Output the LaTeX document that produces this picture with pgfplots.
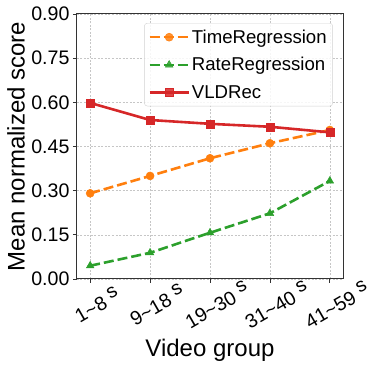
\documentclass[border=0pt]{standalone}
\usepackage{fontspec}
\setmainfont{Liberation Sans}
\usepackage{pgfplots}
\pgfplotsset{compat=1.18}
\usetikzlibrary{calc}
\definecolor{tOrange}{HTML}{FF7F0E}
\definecolor{tGreen}{HTML}{2CA02C}
\definecolor{tRed}{HTML}{D62728}
\newcommand{\rs}{\raisebox{6pt}{s}}
\begin{document}
\begin{tikzpicture}
\begin{axis}[name=ax,
  scale only axis, width=266pt, height=265pt,
  xmin=-0.22, xmax=4.22, ymin=0, ymax=0.9,
  xtick={0,1,2,3,4},
  xticklabels={1\textasciitilde8 \rs,9\textasciitilde18 \rs,19\textasciitilde30 \rs,31\textasciitilde40 \rs,41\textasciitilde59 \rs},
  ytick={0,0.15,0.30,0.45,0.60,0.75,0.90},
  /pgf/number format/assume math mode=true,
  yticklabel style={/pgf/number format/fixed,/pgf/number format/fixed zerofill,/pgf/number format/precision=2},
  tick label style={font=\fontsize{19.6}{22}\selectfont},
  xticklabel style={rotate=30, anchor=center, xshift=-5pt, yshift=-22pt},
  tick align=outside, major tick length=4pt, tick style={black!80, line width=0.8pt},
  xtick pos=bottom, ytick pos=left,
  axis line style={black!80, line width=1pt},
  grid=major, grid style={gray!45, dash pattern=on 2pt off 1.5pt, line width=0.6pt},
  xlabel={Video group}, ylabel={Mean normalized score},
  label style={font=\fontsize{24}{28}\selectfont},
  xlabel style={at={(axis description cs:0.5,-0.294)}, anchor=base},
  ylabel style={at={(axis description cs:-0.229,0.5)}, anchor=center},
  legend style={at={(axis description cs:0.962,0.966)}, anchor=north east,
    font=\fontsize{18.6}{22}\selectfont, draw=gray!35, rounded corners=3pt,
    fill=white, fill opacity=0.85, text opacity=1, inner xsep=4pt, inner ysep=4.5pt,
    row sep=8.8pt},
  legend cell align=left,
  legend image code/.code={\draw[mark repeat=2,mark phase=2,#1] plot coordinates {(0pt,0pt)(19.5pt,0pt)(39pt,0pt)};},
]
\addplot[tOrange, line width=2.6pt, dash pattern=on 10pt off 4pt, mark=*, mark size=4pt, mark options={solid, fill=tOrange, line width=0.5pt}]
  coordinates {(0,0.291)(1,0.350)(2,0.410)(3,0.461)(4,0.506)};
\addlegendentry{TimeRegression}
\addplot[tGreen, line width=2.6pt, dash pattern=on 10pt off 4pt, mark=triangle*, mark size=4.4pt, mark options={solid, fill=tGreen, line width=0.5pt}]
  coordinates {(0,0.045)(1,0.089)(2,0.157)(3,0.223)(4,0.333)};
\addlegendentry{RateRegression}
\addplot[tRed, line width=2.6pt, mark=square*, mark size=4pt, mark options={solid, fill=tRed, line width=0.5pt}]
  coordinates {(0,0.598)(1,0.540)(2,0.527)(3,0.517)(4,0.498)};
\addlegendentry{VLDRec}
\end{axis}
\pgfresetboundingbox
\path[use as bounding box] ($(ax.south west)+(-77pt,-93pt)$) rectangle ($(ax.north east)+(31pt,14pt)$);
\end{tikzpicture}
\end{document}
